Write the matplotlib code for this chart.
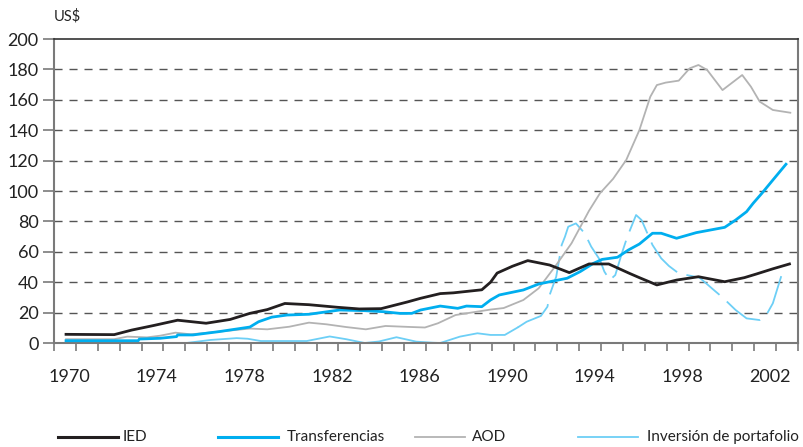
import matplotlib
matplotlib.use("Agg")
import matplotlib.pyplot as plt
from matplotlib.lines import Line2D
import numpy as np

plt.rcParams['font.family'] = ['Lato', 'DejaVu Sans']

# ---------------- data ----------------
ied_x = [1970, 1971, 1972.2, 1973, 1974, 1975.1, 1976.4, 1977.5, 1978.4, 1979.2,
         1980.0, 1981.1, 1982.4, 1983.4, 1984.4, 1985.6, 1986.2, 1987.1, 1987.7,
         1989.0, 1989.4, 1989.7, 1990.4, 1991.1, 1992.1, 1993.0, 1993.9, 1994.8,
         1995.75, 1996.2, 1997.0, 1997.9, 1998.9, 2000.1, 2001.0, 2001.55, 2002.3, 2003.06]
ied_y = [5.7, 5.6, 5.5, 8.5, 11.5, 15, 13, 15.5, 19.5, 22,
         26, 25.2, 23.5, 22.4, 22.6, 27, 29.4, 32.5, 33,
         35, 40, 46, 50.5, 54.2, 51.3, 46.3, 52, 52,
         45.8, 43, 38.2, 41.4, 43.6, 40.3, 43, 45.4, 48.8, 52]

tr_x = [1970, 1973.3, 1973.35, 1974.3, 1975.05, 1975.1, 1975.8, 1977, 1978.4, 1978.8,
        1979.4, 1980.1, 1981.1, 1982.5, 1983.6, 1984.5, 1985.25, 1985.8, 1986.2, 1987.1,
        1987.9, 1988.3, 1989.0, 1989.4, 1989.8, 1990.9, 1991.6, 1992.1, 1992.9, 1993.5,
        1994.1, 1994.5, 1995.2, 1995.7, 1996.2, 1996.8, 1997.2, 1997.9, 1998.8, 2000.1,
        2000.6, 2001.1, 2001.4, 2001.8, 2002.3, 2002.9]
tr_y = [1.5, 1.5, 2.6, 3.1, 4.2, 5.3, 5.3, 7.5, 10.5, 14,
        17, 18.4, 18.9, 21.7, 21.3, 20.6, 19.5, 19.5, 21.7, 24.3,
        22.8, 24.3, 23.9, 28.3, 31.6, 34.9, 38.8, 40.3, 42.6, 47,
        52.4, 55, 56.4, 61.2, 65.1, 72.2, 72.2, 68.9, 72.6, 76.1,
        80.9, 86.4, 91.9, 98.5, 107.2, 117.6]

aod_x = [1970, 1972.2, 1972.8, 1973.7, 1974.3, 1975.0, 1975.7, 1977.0, 1978.4, 1979.2,
         1980.2, 1981.1, 1981.9, 1982.8, 1983.7, 1984.6, 1985.8, 1986.4, 1987.0, 1987.8,
         1989.4, 1990.0, 1990.9, 1991.6, 1992.4, 1993.1, 1993.9, 1994.4, 1995.0, 1995.6,
         1996.2, 1996.7, 1997.0, 1997.4, 1998.0, 1998.5, 1998.9, 1999.3, 2000.0, 2000.5,
         2000.9, 2001.3, 2001.7, 2002.3, 2003.1]
aod_y = [2.5, 2.5, 4.2, 3.7, 4.8, 6.8, 5.7, 7.5, 9.5, 9,
         10.7, 13.4, 12.3, 10.5, 9, 11.2, 10.5, 10.2, 13, 18.4,
         22, 23, 28.3, 36, 51.3, 65.6, 87, 98.5, 108, 120.4,
         140, 162, 169.7, 171.3, 172.6, 180.7, 182.9, 179.6, 166.4, 171.9,
         176.3, 168.6, 158.8, 153.3, 151.5]

pf_x = [1970, 1975.5, 1976.6, 1977.8, 1978.3, 1978.9, 1981.0, 1982.05, 1982.8, 1983.65,
        1984.3, 1985.1, 1986.0, 1986.75, 1987.1, 1988.0, 1988.8, 1989.4, 1990.05, 1990.65,
        1991.05, 1991.7, 1992.0, 1992.1, 1992.4, 1992.65, 1992.8, 1992.95, 1993.3, 1993.7,
        1994.0, 1994.4, 1994.6, 1994.85, 1995.1, 1995.4, 1995.65, 1996.05, 1996.3, 1996.8,
        1997.2, 1997.55, 1998.0, 1998.95, 1999.6, 2000.0, 2000.6, 2001.1, 2001.7, 2002.0,
        2002.3, 2002.7]
pf_y = [0, 0, 2, 3.2, 2.8, 1.3, 1.3, 4.3, 2.5, 0,
        1, 3.8, 0.9, 0.2, 0, 4.2, 6.4, 5.3, 5.3, 10.3,
        14, 17.8, 23.9, 31.6, 43.6, 64.5, 69.9, 76.5, 78.7, 72.2,
        63.4, 54.6, 47, 41.4, 44.7, 59, 69.9, 84.2, 80.9, 64.5,
        55.7, 50.7, 45.8, 43, 34.9, 30, 21.7, 16.2, 15.1, 18.4,
        26.1, 44.7]

series_names = ['IED', 'Transferencias', 'AOD', 'Inversión de portafolio']
year_labels = [1970, 1974, 1978, 1982, 1986, 1990, 1994, 1998, 2002]
y_ticks = [0, 20, 40, 60, 80, 100, 120, 140, 160, 180, 200]

# ---------------- styling ----------------
C_IED = '#231f20'
C_TR = '#00aeef'
C_AOD = '#b3b3b3'
C_PF = '#6dcff6'
C_AX = '#7a7a7a'
TXT = '#222222'

fig = plt.figure(figsize=(8.04, 4.47), dpi=100)
ax = fig.add_axes([54/804, 104/447, 744/804, 304/447])

ax.set_xlim(1969.45, 2003.42)
ax.set_ylim(0, 200)

# gridlines
for v in y_ticks[1:-1]:
    ax.axhline(v, color='#555555', lw=1.0, dashes=(5.8, 5.0), zorder=1)

ax.plot(aod_x, aod_y, color=C_AOD, lw=1.3, zorder=3, solid_joinstyle='round')
pf_x_arr = np.array(pf_x); pf_y_arr = np.array(pf_y)
m1 = pf_x_arr <= 1990.65
ax.plot(pf_x_arr[m1], pf_y_arr[m1], color=C_PF, lw=1.3, zorder=2)
m2 = pf_x_arr >= 1990.65
l2, = ax.plot(pf_x_arr[m2], pf_y_arr[m2], color=C_PF, lw=1.3, zorder=2)
l2.set_dashes((22, 5.5))
ax.plot(tr_x, tr_y, color=C_TR, lw=2.0, zorder=4)
ax.plot(ied_x, ied_y, color=C_IED, lw=2.0, zorder=5)

# spines
for s in ['left', 'right', 'bottom']:
    ax.spines[s].set_color(C_AX)
    ax.spines[s].set_linewidth(1.5)
ax.spines['top'].set_color('#333333')
ax.spines['top'].set_linewidth(1.2)

ax.set_yticks(y_ticks)
ax.set_yticklabels([str(v) for v in y_ticks], fontsize=13, color=TXT)
ax.tick_params(axis='y', direction='out', length=8, width=1.2, color=C_AX, pad=3)

label_offset = 0.15
ax.set_xticks([y + label_offset for y in year_labels])
ax.set_xticklabels([str(y) for y in year_labels], fontsize=13, color=TXT)
ax.tick_params(axis='x', which='major', length=0, pad=19)
ax.set_xticks(np.arange(1969.45, 2003.5, 1.0), minor=True)
ax.tick_params(axis='x', which='minor', direction='out', length=6, width=1.2, color=C_AX)

fig.text(54/804, 1 - 16/447, 'US$', fontsize=10.5, color=TXT, va='center', ha='left')

# legend (manual, figure coordinates in pixels)
leg = [(58, 118, 123, C_IED, 2.2), (218, 278, 287, C_TR, 2.2),
       (415, 465, 472, C_AOD, 1.3), (578, 638, 647, C_PF, 1.3)]
ly = 1 - 437/447
for (x0, x1, xt, c, lw), name in zip(leg, series_names):
    fig.add_artist(Line2D([x0/804, x1/804], [ly, ly], color=c, lw=lw, transform=fig.transFigure))
    fig.text(xt/804, ly, name, fontsize=11, color=TXT, va='center', ha='left')

fig.savefig('out.png', dpi=100)
